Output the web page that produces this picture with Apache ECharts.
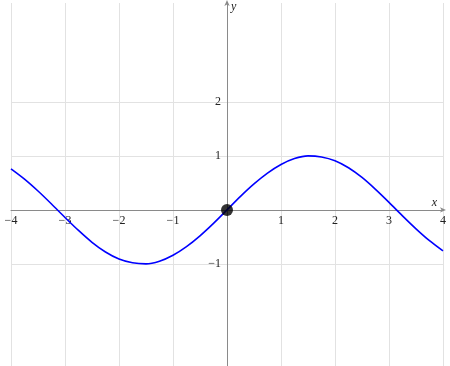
<!DOCTYPE html>
<html><head><meta charset="utf-8">
<script src="https://cdn.jsdelivr.net/npm/echarts@6/dist/echarts.min.js"></script>
<style>html,body{margin:0;padding:0;background:#fff}#c{width:450px;height:366px}</style>
</head><body><div id="c"></div>
<script>
// curve samples
const xs = [-4,-3.75,-3.5,-3.25,-3,-2.75,-2.5,-2.25,-2,-1.75,-1.5,-1.25,-1,-0.75,-0.5,-0.25,0,0.25,0.5,0.75,1,1.25,1.5,1.75,2,2.25,2.5,2.75,3,3.25,3.5,3.75,4];
const ys = [0.76,0.57,0.35,0.11,-0.14,-0.38,-0.60,-0.78,-0.91,-0.98,-1.00,-0.95,-0.84,-0.68,-0.48,-0.25,0,0.25,0.48,0.68,0.84,0.95,1.00,0.98,0.91,0.78,0.60,0.38,0.14,-0.11,-0.35,-0.57,-0.76];
const pointX = [0];
const pointY = [0];
const xTicks = [-4,-3,-2,-1,1,2,3,4];
const yTicks = [-1,1,2];
const xRange = [-4, 4];
const yRange = [-2.89, 3.83];

const W = 450, H = 366;
const G = {left: 11, right: 7, top: 3, bottom: 0};
const gw = W - G.left - G.right, gh = H - G.top - G.bottom;
// move the axes onto the zero lines of the other axis
const xOffset = -((0 - yRange[0]) / (yRange[1] - yRange[0])) * gh;
const yOffset = -((0 - xRange[0]) / (xRange[1] - xRange[0])) * gw;

const fmt = v => String(v).replace('-', '\u2212');
const labelStyle = {fontFamily: 'Liberation Serif', fontSize: 12, color: '#222'};
const chart = echarts.init(document.getElementById('c'));
chart.setOption({
  animation: false,
  grid: Object.assign({outerBoundsMode: 'none', containLabel: false}, G),
  xAxis: {
    type: 'value', min: xRange[0], max: xRange[1], position: 'bottom', offset: xOffset,
    name: 'x', nameLocation: 'end', nameGap: -6,
    nameTextStyle: {fontFamily: 'Liberation Serif', fontStyle: 'italic', fontSize: 12, color: '#222', align: 'right', verticalAlign: 'bottom', padding: [0,0,1,0]},
    axisLine: {onZero: false, lineStyle: {color: '#8a8a8a', width: 1}, symbol: ['none','arrow'], symbolSize: [4,6], symbolOffset: [0,3]},
    axisTick: {show: false, customValues: xTicks},
    axisLabel: Object.assign({customValues: xTicks, formatter: fmt, margin: 5}, labelStyle),
    splitLine: {show: true, lineStyle: {color: '#e2e2e2', width: 1}}
  },
  yAxis: {
    type: 'value', min: yRange[0], max: yRange[1], position: 'left', offset: yOffset,
    name: 'y', nameLocation: 'end', nameGap: -10,
    nameTextStyle: {fontFamily: 'Liberation Serif', fontStyle: 'italic', fontSize: 12, color: '#222', align: 'left', padding: [0,0,0,4]},
    axisLine: {onZero: false, lineStyle: {color: '#8a8a8a', width: 1}, symbol: ['none','arrow'], symbolSize: [4,6], symbolOffset: [0,3]},
    axisTick: {show: false, customValues: yTicks},
    axisLabel: Object.assign({customValues: yTicks, formatter: fmt, margin: 6}, labelStyle),
    splitLine: {show: true, lineStyle: {color: '#e2e2e2', width: 1}}
  },
  series: [
    {type: 'line', data: xs.map((x,i)=>[x, ys[i]]), smooth: 0.3, showSymbol: false,
     lineStyle: {color: '#0000ff', width: 1.6}, z: 3},
    {type: 'scatter', data: pointX.map((x,i)=>[x, pointY[i]]), symbolSize: 12,
     itemStyle: {color: '#000'}, z: 4}
  ]
});
</script></body></html>
